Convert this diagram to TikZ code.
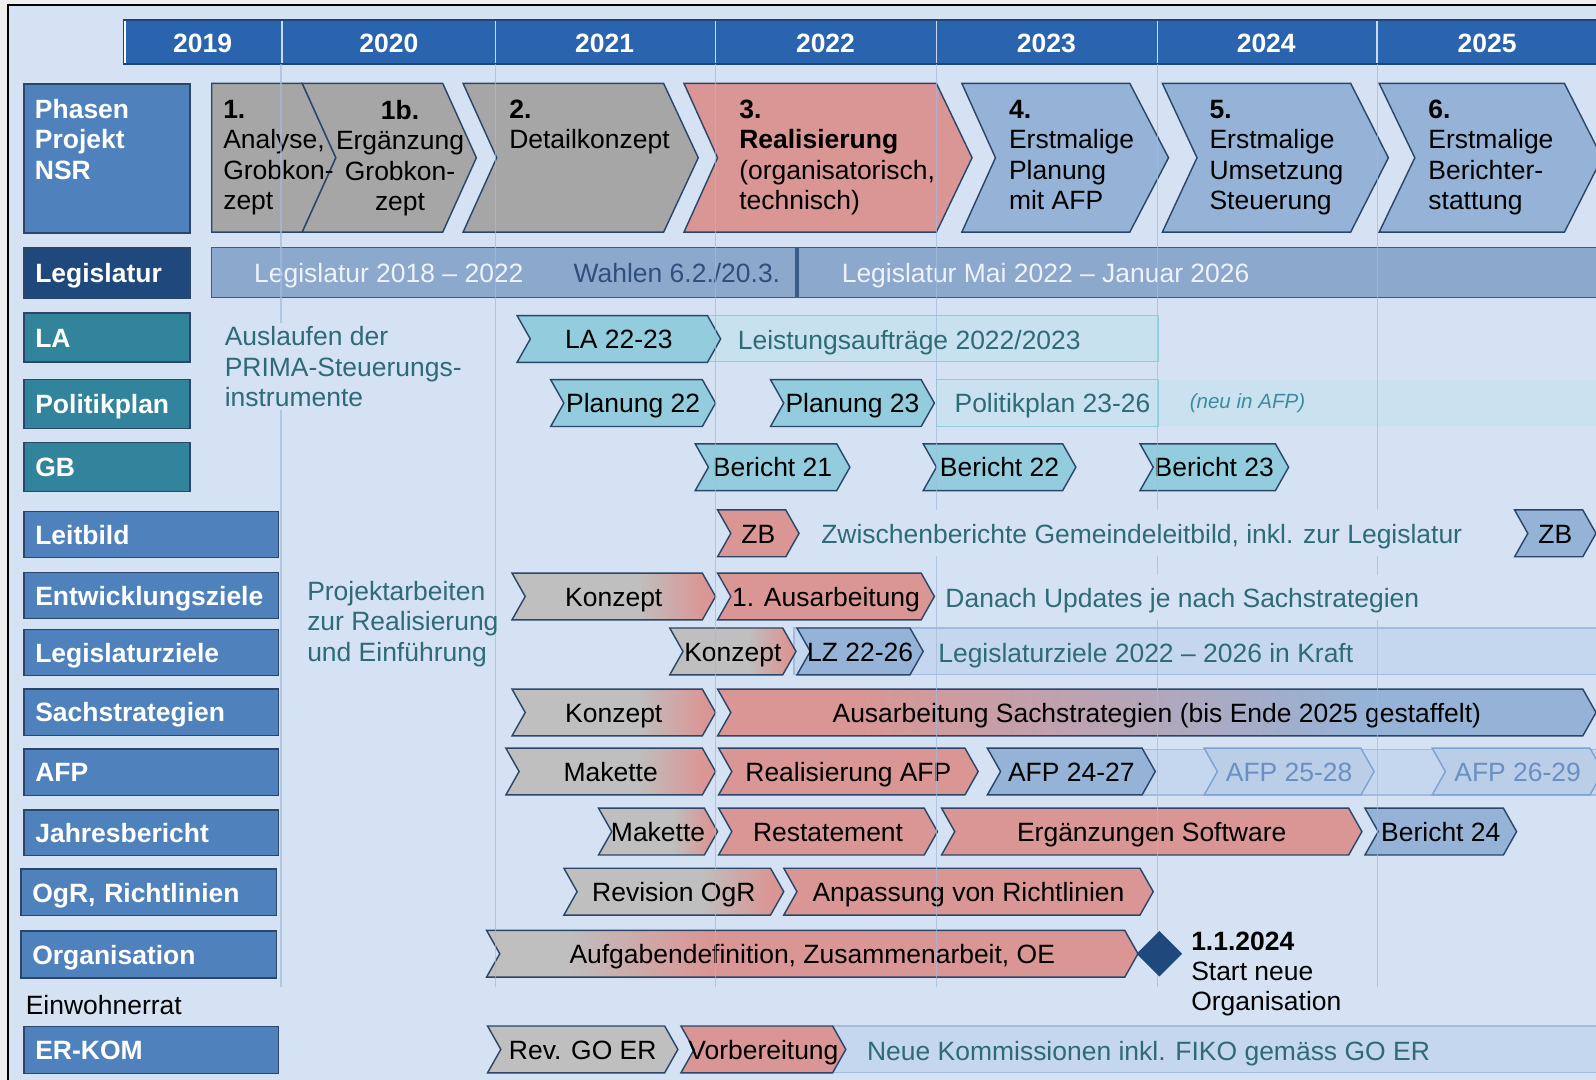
\documentclass[tikz,border=0pt]{standalone}
\usepackage{fontspec}
\setmainfont{Liberation Sans}
\usetikzlibrary{shapes.geometric}

\definecolor{aussen}{HTML}{EFEFEF}
\definecolor{hgrund}{HTML}{D4E2F4}
\definecolor{kopf}{HTML}{2A63AE}
\definecolor{kopfrand}{HTML}{1E4478}
\definecolor{kopflinie}{HTML}{C9D9EE}
\definecolor{mittelblau}{HTML}{4F81BD}
\definecolor{dunkelblau}{HTML}{1F497D}
\definecolor{petrol}{HTML}{31849B}
\definecolor{rand}{HTML}{2B4668}
\definecolor{grau}{HTML}{BFBFBF}
\definecolor{dgrau}{HTML}{A6A6A6}
\definecolor{rosa}{HTML}{DA9694}
\definecolor{hblau}{HTML}{95B3D7}
\definecolor{tuerkis}{HTML}{93CDDD}
\definecolor{tuerkisrand}{HTML}{92CDDC}
\definecolor{tuerkistext}{HTML}{2F6A77}
\definecolor{neutext}{HTML}{3E8BA0}
\definecolor{legi}{HTML}{8DA8CD}
\definecolor{legirand}{HTML}{3A5C89}
\definecolor{legitext}{HTML}{EEF3FA}
\definecolor{wahltext}{HTML}{2F4F7F}
\definecolor{bandblau}{HTML}{C5D7EE}
\definecolor{bandrand}{HTML}{A1BCDF}
\definecolor{bandtuerkis}{HTML}{C7E2EE}
\definecolor{gitter}{HTML}{A2BBDD}
\definecolor{blass}{HTML}{BACEE7}
\definecolor{blassrand}{HTML}{7EA2D3}
\definecolor{blasstext}{HTML}{6A8FC2}

\pgfdeclarehorizontalshading{grauRosa}{100bp}{color(0bp)=(grau); color(56bp)=(grau); color(72bp)=(rosa); color(100bp)=(rosa)}
\pgfdeclarehorizontalshading{orgaShade}{100bp}{color(0bp)=(grau); color(31bp)=(grau); color(42bp)=(rosa); color(100bp)=(rosa)}
\pgfdeclarehorizontalshading{rosaBlau}{100bp}{color(0bp)=(rosa); color(33bp)=(rosa); color(62bp)=(hblau); color(100bp)=(hblau)}

\tikzset{
  einzeile/.style={text height=10.8pt, text depth=0pt},
  pf/.style={draw=rand, line width=0.8pt, line join=miter},
  phase/.style={draw=rand, line width=0.8pt},
  pftext/.style={inner sep=0pt, text=black, einzeile},
  phtext/.style={inner sep=0pt, text=black, align=left},
  kasten/.style={draw=rand, line width=0.8pt, fill=mittelblau, text=white,
    font=\bfseries, inner xsep=0.22cm, inner ysep=0pt, align=left, einzeile},
  jahr/.style={text=white, font=\bfseries, einzeile},
  legibar/.style={fill=legi, draw=legirand, line width=0.8pt},
  bandb/.style={fill=bandblau, draw=bandrand, line width=0.7pt},
  bandt/.style={fill=bandtuerkis, draw=tuerkisrand, line width=0.8pt},
  blasspfeil/.style={fill=blass, draw=blassrand},
  notiz/.style={text=tuerkistext, anchor=west, inner sep=2pt, einzeile},
  notizblock/.style={text=tuerkistext, anchor=north west, inner sep=2pt, align=left},
  gitterlinie/.style={draw=gitter, line width=0.7pt, opacity=0.7}
}

% Pfeil: Stil, Name, x links, x Spitze, y Mitte, Text
\newcommand{\pfeil}[6]{%
  \path[pf,#1] (#3,{#5-23}) -- ({#4-13},{#5-23}) -- (#4,#5) -- ({#4-13},{#5+23})
    -- (#3,{#5+23}) -- ({#3+13},#5) -- cycle;
  \node[pftext] (#2) at ({(#3+#4)/2},#5) {#6};}

% Kasten: Name, Stil, x1, x2, y1, y2, Text
\newcommand{\kasten}[7]{%
  \pgfmathsetlengthmacro{\kb}{(#4-#3)*0.02cm}%
  \pgfmathsetlengthmacro{\kh}{(#6-#5)*0.02cm}%
  \pgfmathsetlengthmacro{\kt}{(#4-#3-22)*0.02cm}%
  \node[kasten,#2,anchor=north west,minimum width=\kb,minimum height=\kh,text width=\kt] (#1) at (#3,#5) {#7};}

\begin{document}
\fontsize{14.8}{17}\selectfont
\begin{tikzpicture}[x=0.02cm, y=-0.02cm]
\useasboundingbox (0,0) rectangle (1568,1061);
\clip (0,0) rectangle (1568,1061);
\fill[aussen] (0,0) rectangle (1568,1061);
\draw[fill=hgrund, draw=black, line width=1.2pt] (8,5) rectangle (1600,1100);

% Jahre
\draw[fill=kopf, draw=kopfrand, line width=1pt] (122,20) rectangle (1600,63);
\draw[white, line width=1pt] (122.5,21) -- (122.5,62);
\foreach \x in {277,487,703,920,1137,1353}
  \draw[kopflinie, line width=0.8pt] (\x,21) -- (\x,62);
\foreach \j/\x in {2019/199,2020/382,2021/594,2022/811,2023/1028,2024/1244,2025/1461}
  \node[jahr] (j\j) at (\x,42) {\j};

% Zeilenkoepfe
\kasten{phasen}{}{23}{186}{82}{228}{}
\node[text=white, font=\bfseries, align=left, anchor=north west, inner sep=0pt] (phasentext) at (34,97) {Phasen\\Projekt\\NSR};
\kasten{legislatur}{fill=dunkelblau}{23}{186}{243}{292}{Legislatur}
\kasten{la}{fill=petrol}{23}{186}{307}{355}{LA}
\kasten{politikplan}{fill=petrol}{23}{186}{372}{420}{Politikplan}
\kasten{gb}{fill=petrol}{23}{186}{434}{482}{GB}
\kasten{leitbild}{}{23}{273}{502}{547}{Leitbild}
\kasten{ez}{}{23}{273}{562}{607}{Entwicklungsziele}
\kasten{lz}{}{23}{273}{618}{663}{Legislaturziele}
\kasten{sach}{}{23}{273}{676}{722}{Sachstrategien}
\kasten{afp}{}{23}{273}{735}{781}{AFP}
\kasten{jb}{}{23}{273}{795}{840}{Jahresbericht}
\kasten{ogr}{}{20}{271}{853}{899}{OgR, Richtlinien}
\kasten{orga}{}{20}{271}{914}{960}{Organisation}
\node[anchor=west, inner sep=0pt, einzeile] (ewr) at (25,987) {Einwohnerrat};
\kasten{erkom}{}{23}{273}{1008}{1054}{ER-KOM}

% Phasen
\path[phase, fill=dgrau] (208,82) -- (297,82) -- (330,155) -- (297,228) -- (208,228) -- cycle;
\path[phase, fill=dgrau] (297,82) -- (435,82) -- (468,155) -- (435,228) -- (297,228) -- (330,155) -- cycle;
\path[phase, fill=dgrau] (455,82) -- (652,82) -- (686,155) -- (652,228) -- (455,228) -- (488,155) -- cycle;
\path[phase, fill=rosa] (672,82) -- (920,82) -- (955,155) -- (920,228) -- (672,228) -- (705,155) -- cycle;
\path[phase, fill=hblau] (945,82) -- (1110,82) -- (1148,155) -- (1110,228) -- (945,228) -- (978,155) -- cycle;
\path[phase, fill=hblau] (1142,82) -- (1327,82) -- (1364,155) -- (1327,228) -- (1142,228) -- (1176,155) -- cycle;
\path[phase, fill=hblau] (1355,82) -- (1537,82) -- (1574,155) -- (1537,228) -- (1355,228) -- (1390,155) -- cycle;
\node[phtext, anchor=north west] (ph1) at (219,98) {\textbf{1.}\\Analyse,\\Grobkon-\\zept};
\node[phtext, align=center, anchor=north] (ph1b) at (393,98) {\textbf{1b.}\\Ergänzung\\Grobkon-\\zept};
\node[phtext, anchor=north west] (ph2) at (500,98) {\textbf{2.}\\Detailkonzept};
\node[phtext, anchor=north west] (ph3) at (726,98) {\textbf{3.}\\\textbf{Realisierung}\\(organisatorisch,\\technisch)};
\node[phtext, anchor=north west] (ph4) at (991,98) {\textbf{4.}\\Erstmalige\\Planung\\mit AFP};
\node[phtext, anchor=north west] (ph5) at (1188,98) {\textbf{5.}\\Erstmalige\\Umsetzung\\Steuerung};
\node[phtext, anchor=north west] (ph6) at (1403,98) {\textbf{6.}\\Erstmalige\\Berichter-\\stattung};

% Legislatur
\draw[legibar] (208,243) rectangle (783,292);
\draw[legibar] (783,243) rectangle (1600,292);
\draw[legirand, line width=2pt] (783,243) -- (783,292);
\node[text=legitext, einzeile] (legi1) at (382,268) {Legislatur 2018 – 2022};
\node[text=wahltext, einzeile] (wahl) at (665,268) {Wahlen 6.2./20.3.};
\node[text=legitext, anchor=west, einzeile] (legi2) at (818,268) {Legislatur Mai 2022 – Januar 2026};

% Baender
\draw[bandt] (690,310) rectangle (1138,355);
\fill[bandtuerkis, opacity=0.7] (920,373) rectangle (1600,419);
\draw[tuerkisrand, line width=0.8pt] (920,373) rectangle (1138,419);
\draw[bandb] (780,617) rectangle (1600,663);
\draw[bandb] (1120,736) rectangle (1600,781);
\draw[bandb] (818,1008) rectangle (1600,1054);

% LA, Politikplan, GB
\pfeil{fill=tuerkis}{la2223}{508}{708}{333}{LA 22-23}
\pfeil{fill=tuerkis}{plan22}{541}{703}{396}{Planung 22}
\pfeil{fill=tuerkis}{plan23}{757}{918}{396}{Planung 23}
\pfeil{fill=tuerkis}{ber21}{683}{835}{459}{Bericht 21}
\pfeil{fill=tuerkis}{ber22}{907}{1057}{459}{Bericht 22}
\pfeil{fill=tuerkis}{ber23}{1120}{1266}{459}{Bericht 23}

% Leitbild bis ER-KOM
\pfeil{fill=rosa}{zb1}{705}{785}{524}{ZB}
\pfeil{fill=hblau}{zb2}{1488}{1568}{524}{ZB}
\pfeil{shading=grauRosa}{ezkonzept}{503}{703}{586}{Konzept}
\pfeil{fill=rosa}{ezaus}{705}{918}{586}{1. Ausarbeitung}
\pfeil{shading=grauRosa}{lzkonzept}{658}{782}{640}{Konzept}
\pfeil{fill=hblau}{lz2226}{783}{907}{640}{LZ 22-26}
\pfeil{shading=grauRosa}{sskonzept}{503}{703}{700}{Konzept}
\pfeil{shading=rosaBlau}{ssaus}{705}{1568}{700}{Ausarbeitung Sachstrategien (bis Ende 2025 gestaffelt)}
\pfeil{shading=grauRosa}{afpmak}{497}{703}{758}{Makette}
\pfeil{fill=rosa}{afpreal}{706}{961}{758}{Realisierung AFP}
\pfeil{fill=hblau}{afp2427}{970}{1135}{758}{AFP 24-27}
\pfeil{blasspfeil}{afp2528}{1183}{1350}{758}{\color{blasstext}AFP 25-28}
\pfeil{blasspfeil}{afp2629}{1407}{1575}{758}{\color{blasstext}AFP 26-29}
\pfeil{shading=grauRosa}{jbmak}{588}{705}{817}{Makette}
\pfeil{fill=rosa}{jbrest}{706}{921}{817}{Restatement}
\pfeil{fill=rosa}{jberg}{925}{1338}{817}{Ergänzungen Software}
\pfeil{fill=hblau}{jb24}{1341}{1490}{817}{Bericht 24}
\pfeil{shading=grauRosa}{ogrrev}{554}{770}{876}{Revision OgR}
\pfeil{fill=rosa}{ogranp}{770}{1133}{876}{Anpassung von Richtlinien}
\pfeil{shading=orgaShade}{orgaauf}{478}{1118}{937}{Aufgabendefinition, Zusammenarbeit, OE}
\pfeil{fill=grau}{erkomrev}{479}{666}{1031}{Rev. GO ER}
\pfeil{fill=rosa}{erkomvor}{669}{831}{1031}{Vorbereitung}

% Gitter
\foreach \x in {276,487,703,920,1137,1353}
  \draw[gitterlinie] (\x,63) -- (\x,970);

% Meilenstein
\node[diamond, fill=dunkelblau, inner sep=0pt, minimum width=0.9cm, minimum height=0.9cm] (stichtag) at (1139,937) {};
\node[anchor=north west, align=left, inner sep=0pt] (start) at (1170,915) {\textbf{1.1.2024}\\Start neue\\Organisation};

% Notizen
\node[notizblock, fill=hgrund] (prima) at (217,317) {Auslaufen der\\PRIMA-Steuerungs-\\instrumente};
\node[notizblock] (projekt) at (298,567) {Projektarbeiten\\zur Realisierung\\und Einführung};
\node[notiz] (latext) at (721,334) {Leistungsaufträge 2022/2023};
\node[notiz] (pptext) at (934,396) {Politikplan 23-26};
\node[notiz, text=neutext, font=\itshape\fontsize{11.5}{13}\selectfont, text height=8.5pt] (neu) at (1165,394) {(neu in AFP)};
\node[notiz, fill=hgrund, minimum height=0.9cm] (zwb) at (803,524) {Zwischenberichte Gemeindeleitbild, inkl. zur Legislatur};
\node[notiz, fill=hgrund, minimum height=0.9cm] (updates) at (925,587) {Danach Updates je nach Sachstrategien};
\node[notiz] (lztext) at (918,641) {Legislaturziele 2022 – 2026 in Kraft};
\node[notiz] (erkomtext) at (848,1032) {Neue Kommissionen inkl. FIKO gemäss GO ER};
\end{tikzpicture}
\end{document}
